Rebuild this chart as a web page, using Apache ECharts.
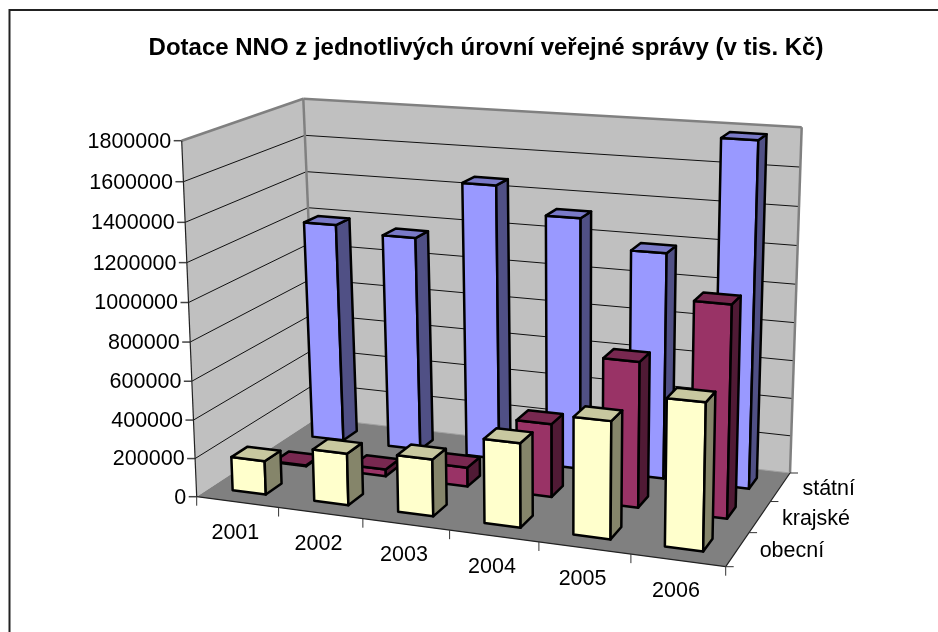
<!DOCTYPE html>
<html>
<head>
<meta charset="utf-8">
<title>Dotace NNO</title>
<script src="https://cdn.jsdelivr.net/npm/echarts@6/dist/echarts.min.js"></script>
<style>
  html, body { margin: 0; background: #fff; }
  #chart { width: 938px; height: 632px; }
</style>
</head>
<body>
<div id="chart"></div>
<script>
const chartTitle = 'Dotace NNO z jednotlivých úrovní veřejné správy (v tis. Kč)';
const years = ['2001', '2002', '2003', '2004', '2005', '2006'];
const depthNames = ['obecní', 'krajské', 'státní'];
const valueTicks = [0, 200000, 400000, 600000, 800000, 1000000, 1200000, 1400000, 1600000, 1800000];
const statni = [1190000, 1155000, 1465000, 1327000, 1182000, 1780000];
const krajske = [5000, 36000, 100000, 380000, 745000, 1073000];
const obecni = [175000, 267000, 290000, 425000, 585000, 725000];

const FONT = '"Liberation Sans", Arial, sans-serif';

// corners of the 3d box on screen, [x, y, z] each 0 or 1
const corners = {
  '000': [196.7, 496.7], '100': [725.7, 566.7],
  '010': [181.7, 140.7], '110': [733.3, 179.8],
  '001': [317, 418], '101': [790, 473],
  '011': [303.3, 98.7], '111': [801.7, 127.3]
};
// perspective weight per axis
const wX = 0.916, wY = 0.96, wZ = 1.13;

function project(fx, fy, fz) {
  let sx = 0, sy = 0, sw = 0;
  for (const key in corners) {
    const i = +key[0], j = +key[1], k = +key[2];
    const w = 1 + i * (wX - 1) + j * (wY - 1) + k * (wZ - 1);
    const b = (i ? fx : 1 - fx) * (j ? fy : 1 - fy) * (k ? fz : 1 - fz) * w;
    sx += b * corners[key][0];
    sy += b * corners[key][1];
    sw += b;
  }
  return [sx / sw, sy / sw];
}

// grid pixels -> 0..1 inside the box
function normX(params, px) {
  return (px - params.coordSys.x) / params.coordSys.width;
}
function normY(params, py) {
  return (params.coordSys.y + params.coordSys.height - py) / params.coordSys.height;
}

function poly(points, fill, stroke, lineWidth) {
  return {
    type: 'polygon',
    shape: { points: points },
    style: { fill: fill, stroke: stroke, lineWidth: lineWidth, lineJoin: 'round' }
  };
}
function seg(a, b, color, lineWidth) {
  return {
    type: 'line',
    shape: { x1: a[0], y1: a[1], x2: b[0], y2: b[1] },
    style: { stroke: color, lineWidth: lineWidth }
  };
}
function label(text, x, y, align) {
  return {
    type: 'text',
    style: {
      text: text, x: x, y: y, fill: '#000',
      font: '21.5px ' + FONT, textAlign: align, textVerticalAlign: 'middle'
    }
  };
}

function renderBox(params, api) {
  const children = [];
  const P = project;
  // walls and floor
  children.push(poly([P(0, 0, 0), P(0, 1, 0), P(0, 1, 1), P(0, 0, 1)], '#c0c0c0', 'none', 0));
  children.push(poly([P(0, 0, 1), P(0, 1, 1), P(1, 1, 1), P(1, 0, 1)], '#c0c0c0', 'none', 0));
  children.push(poly([P(0, 0, 0), P(1, 0, 0), P(1, 0, 1), P(0, 0, 1)], '#808080', 'none', 0));
  // gridlines, from the value axis
  valueTicks.forEach(function (v) {
    const fy = normY(params, api.coord([0, v])[1]);
    if (v > 0 && v < 1800000) {
      children.push(seg(P(0, fy, 0), P(0, fy, 1), '#111', 1));
      children.push(seg(P(0, fy, 1), P(1, fy, 1), '#111', 1));
    }
    const p = P(0, fy, 0);
    children.push(seg([p[0] - 8, p[1]], p, '#444', 1.5));
    children.push(label(String(v), p[0] - 10.5, p[1] + 1, 'right'));
  });
  // wall rims
  children.push(seg(P(0, 1, 0), P(0, 1, 1), '#808080', 2.5));
  children.push(seg(P(0, 1, 1), P(1, 1, 1), '#808080', 2.5));
  children.push(seg(P(1, 1, 1), P(1, 0, 1), '#808080', 2.5));
  children.push(seg(P(0, 1, 1), P(0, 0, 1), '#808080', 2.5));
  children.push(seg(P(0, 0, 1), P(1, 0, 1), '#a0a0a0', 1));
  // axis lines
  children.push(seg(P(0, 0, 0), P(0, 1, 0), '#222', 1.2));
  children.push(seg(P(0, 0, 0), P(1, 0, 0), '#222', 1.2));
  children.push(seg(P(1, 0, 0), P(1, 0, 1), '#222', 1.2));
  // year ticks and labels
  years.forEach(function (year, i) {
    const cx = api.coord([i, 0])[0];
    const half = api.size([1, 0])[0] / 2;
    const left = P(normX(params, cx - half), 0, 0);
    children.push(seg(left, [left[0], left[1] + 9], '#333', 1));
    const mid = P(normX(params, cx), 0, 0);
    children.push(label(year, mid[0] - 2, mid[1] + 31, 'center'));
  });
  const last = P(1, 0, 0);
  children.push(seg(last, [last[0], last[1] + 9], '#333', 1));
  // depth ticks and labels
  depthNames.forEach(function (name, k) {
    const t = P(1, 0, k / depthNames.length);
    children.push(seg(t, [t[0] + 8, t[1]], '#333', 1));
    const m = P(1, 0, (k + 0.5) / depthNames.length);
    children.push(label(name, m[0] + 22, m[1] + 2, 'left'));
  });
  const back = P(1, 0, 1);
  children.push(seg(back, [back[0] + 8, back[1]], '#333', 1));
  return { type: 'group', children: children };
}

function barRenderer(depthIndex, colors) {
  return function (params, api) {
    const cx = api.coord([api.value(0), 0])[0];
    const band = api.size([1, 0])[0];
    const x0 = normX(params, cx - band * 0.23);
    const x1 = normX(params, cx + band * 0.18);
    const y1 = normY(params, api.coord([0, api.value(1)])[1]);
    const slot = 1 / depthNames.length;
    const z0 = (depthIndex + 0.32) * slot;
    const z1 = (depthIndex + 0.7) * slot;
    const P = project;
    return {
      type: 'group',
      children: [
        poly([P(x0, 0, z0), P(x0, y1, z0), P(x1, y1, z0), P(x1, 0, z0)], colors[0], '#000', 2.5),
        poly([P(x1, 0, z0), P(x1, y1, z0), P(x1, y1, z1), P(x1, 0, z1)], colors[2], '#000', 2.5),
        poly([P(x0, y1, z0), P(x0, y1, z1), P(x1, y1, z1), P(x1, y1, z0)], colors[1], '#000', 2.5)
      ]
    };
  };
}

const chart = echarts.init(document.getElementById('chart'));
chart.setOption({
  animation: false,
  backgroundColor: '#fff',
  title: {
    text: chartTitle,
    left: 481,
    top: 31,
    textAlign: 'center',
    textStyle: { fontFamily: FONT, fontSize: 24, fontWeight: 'bold', color: '#000' }
  },
  graphic: [{
    type: 'rect',
    shape: { x: 9.5, y: 10, width: 1000, height: 700 },
    style: { fill: 'none', stroke: '#222', lineWidth: 2 },
    silent: true
  }],
  grid: { left: 197, top: 140, width: 529, height: 357 },
  xAxis: { type: 'category', data: years, show: false },
  yAxis: { type: 'value', min: 0, max: 1800000, interval: 200000, show: false },
  series: [
    { type: 'custom', renderItem: renderBox, data: [[0, 0]], silent: true, z: 1, clip: false },
    { type: 'custom', name: 'státní', renderItem: barRenderer(2, ['#9999ff', '#7a7ac8', '#505085']),
      data: statni.map((v, i) => [i, v]), z: 2, clip: false },
    { type: 'custom', name: 'krajské', renderItem: barRenderer(1, ['#993366', '#782850', '#501a35']),
      data: krajske.map((v, i) => [i, v]), z: 3, clip: false },
    { type: 'custom', name: 'obecní', renderItem: barRenderer(0, ['#ffffcc', '#c8c8a0', '#85856a']),
      data: obecni.map((v, i) => [i, v]), z: 4, clip: false }
  ]
});
</script>
</body>
</html>
